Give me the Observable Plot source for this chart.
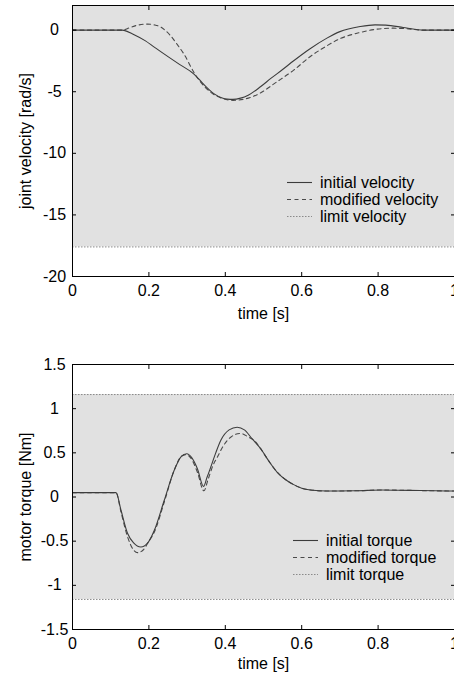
<!DOCTYPE html>
<html><head><meta charset="utf-8">
<script src="https://cdn.jsdelivr.net/npm/d3@7"></script>
<script src="https://cdn.jsdelivr.net/npm/@observablehq/plot@0.6"></script>
<style>
body{margin:0;background:#fff;font-family:"Liberation Sans",Arial,sans-serif;}
#wrap{position:relative;width:454px;height:676px;overflow:hidden;}
#wrap svg{display:block;}
.legend{position:absolute;font-size:16px;color:#000;line-height:17px;}
.legend .row{display:flex;align-items:center;height:17px;white-space:nowrap;}
.legend .row svg{display:block;margin-right:8px;}
</style>
</head><body><div id="wrap"></div>
<script>
// ---- data ----
const xTicks = [0, 0.2, 0.4, 0.6, 0.8, 1];
const velocityTicks = [0, -5, -10, -15, -20];
const torqueTicks = [1.5, 1, 0.5, 0, -0.5, -1, -1.5];
const velocityLimit = 17.6;
const torqueLimit = 1.16;
const velocityLegend = ["initial velocity", "modified velocity", "limit velocity"];
const torqueLegend = ["initial torque", "modified torque", "limit torque"];

const initialVelocity = [[0,0],[0.13,0],[0.135,-0.02],[0.16,-0.35],[0.19,-0.85],[0.214,-1.38],[0.25,-2.15],[0.28,-2.78],[0.318,-3.57],[0.331,-3.98],[0.35,-4.6],[0.37,-5.15],[0.39,-5.48],[0.405,-5.6],[0.42,-5.62],[0.44,-5.52],[0.46,-5.28],[0.492,-4.6],[0.52,-3.9],[0.55,-3.2],[0.579,-2.49],[0.62,-1.55],[0.666,-0.65],[0.70,-0.12],[0.753,0.29],[0.792,0.43],[0.82,0.41],[0.866,0.21],[0.9,0.05],[0.919,0],[1,0]];
const modifiedVelocity = [[0,0],[0.13,0],[0.15,0.2],[0.17,0.4],[0.196,0.49],[0.215,0.42],[0.231,0.25],[0.245,-0.08],[0.257,-0.46],[0.275,-1.2],[0.292,-1.95],[0.318,-3.44],[0.335,-4.2],[0.36,-5.0],[0.39,-5.52],[0.42,-5.7],[0.45,-5.6],[0.492,-5.1],[0.53,-4.3],[0.579,-3.25],[0.62,-2.2],[0.666,-1.27],[0.70,-0.7],[0.753,-0.19],[0.797,0.08],[0.84,0.16],[0.88,0.1],[0.919,0],[1,0]];

const initialTorque = [[0,0.05],[0.114,0.05],[0.127,-0.15],[0.144,-0.41],[0.16,-0.52],[0.179,-0.566],[0.197,-0.52],[0.214,-0.38],[0.24,-0.04],[0.266,0.3],[0.285,0.46],[0.299,0.49],[0.313,0.44],[0.327,0.32],[0.343,0.12],[0.352,0.22],[0.362,0.34],[0.375,0.5],[0.388,0.64],[0.41,0.76],[0.431,0.79],[0.45,0.76],[0.47,0.66],[0.492,0.55],[0.515,0.4],[0.536,0.28],[0.56,0.19],[0.579,0.14],[0.6,0.1],[0.623,0.08],[0.666,0.068],[0.74,0.07],[0.81,0.08],[0.88,0.075],[0.95,0.07],[1,0.068]];
const modifiedTorque = [[0,0.05],[0.114,0.05],[0.127,-0.17],[0.144,-0.45],[0.16,-0.6],[0.17,-0.63],[0.185,-0.6],[0.2,-0.5],[0.214,-0.4],[0.24,-0.06],[0.266,0.3],[0.285,0.46],[0.297,0.48],[0.313,0.42],[0.327,0.28],[0.344,0.07],[0.355,0.2],[0.368,0.36],[0.379,0.45],[0.395,0.58],[0.415,0.68],[0.44,0.72],[0.46,0.68],[0.48,0.62],[0.492,0.55],[0.515,0.4],[0.536,0.28],[0.56,0.19],[0.579,0.14],[0.6,0.1],[0.623,0.08],[0.666,0.068],[0.74,0.07],[0.81,0.08],[0.88,0.075],[0.95,0.07],[1,0.068]];

// ---- styles ----
const FONT = "Liberation Sans, Arial, sans-serif";
const solidColor = "#3c3c3c", dashColor = "#4a4a4a", limitColor = "#8a8a8a", bgFill = "#e1e1e1";
const dashPattern = "4,3.5", dotPattern = "1.5,1.5";

function chart({height, marginTop, marginBottom, yDomain, yTicks, limit, initial, modified, ylabel, xlabelDy}) {
  const fmt = d => String(d);
  return Plot.plot({
    width: 454, height, marginLeft: 72, marginRight: 0, marginTop, marginBottom,
    style: {fontFamily: FONT, fontSize: "16px", background: "white", color: "black", overflow: "hidden"},
    x: {domain: [0, 1]},
    y: {domain: yDomain},
    marks: [
      Plot.rectY([limit], {x1: 0, x2: 1, y1: d => -d, y2: d => d, fill: bgFill, clip: true}),
      Plot.ruleY([-limit, limit], {stroke: limitColor, strokeDasharray: dotPattern, strokeWidth: 1, clip: true}),
      Plot.line(modified, {x: d => d[0], y: d => d[1], stroke: dashColor, strokeWidth: 1.1, strokeDasharray: dashPattern, curve: "monotone-x", clip: true}),
      Plot.line(initial, {x: d => d[0], y: d => d[1], stroke: solidColor, strokeWidth: 1.1, curve: "monotone-x", clip: true}),
      Plot.axisX(xTicks, {anchor: "bottom", tickSize: 0, tickPadding: 8, tickFormat: fmt, label: null}),
      Plot.axisX(xTicks, {anchor: "bottom", tickSize: -4, tickFormat: () => "", label: null, stroke: "black"}),
      Plot.axisX(xTicks, {anchor: "top", tickSize: -4, tickFormat: () => "", label: null, stroke: "black"}),
      Plot.axisY(yTicks, {anchor: "left", tickSize: 0, tickPadding: 18, textAnchor: "middle", tickFormat: fmt, label: null}),
      Plot.axisY(yTicks, {anchor: "left", tickSize: -4, tickFormat: () => "", label: null, stroke: "black"}),
      Plot.axisY(yTicks, {anchor: "right", tickSize: -4, tickFormat: () => "", label: null, stroke: "black"}),
      Plot.frame({stroke: "black", strokeWidth: 1}),
      Plot.text(["time [s]"], {frameAnchor: "bottom", dy: xlabelDy, textAnchor: "middle", lineAnchor: "middle", fontSize: 16, fill: "black"}),
      Plot.text([ylabel], {frameAnchor: "left", dx: -47, rotate: -90, textAnchor: "middle", lineAnchor: "middle", fontSize: 16, fill: "black"})
    ]
  });
}

function legend(labels, left, top) {
  const div = document.createElement("div");
  div.className = "legend";
  div.style.left = left + "px";
  div.style.top = top + "px";
  const styles = [
    {stroke: solidColor, dash: null},
    {stroke: dashColor, dash: dashPattern},
    {stroke: limitColor, dash: dotPattern}
  ];
  labels.forEach((lab, i) => {
    const row = document.createElement("div");
    row.className = "row";
    const s = styles[i];
    row.innerHTML = `<svg width="25" height="17"><line x1="0" x2="25" y1="8.5" y2="8.5" stroke="${s.stroke}" stroke-width="1.1" ${s.dash ? `stroke-dasharray="${s.dash}"` : ""}/></svg><span>${lab}</span>`;
    div.appendChild(row);
  });
  return div;
}

const wrap = document.getElementById("wrap");
wrap.appendChild(chart({
  height: 340, marginTop: 5, marginBottom: 64, yDomain: [-20, 2], yTicks: velocityTicks,
  limit: velocityLimit, initial: initialVelocity, modified: modifiedVelocity,
  ylabel: "joint velocity [rad/s]", xlabelDy: 37
}));
wrap.appendChild(chart({
  height: 336, marginTop: 24, marginBottom: 47, yDomain: [-1.5, 1.5], yTicks: torqueTicks,
  limit: torqueLimit, initial: initialTorque, modified: modifiedTorque,
  ylabel: "motor torque [Nm]", xlabelDy: 34
}));
wrap.appendChild(legend(velocityLegend, 287, 174));
wrap.appendChild(legend(torqueLegend, 293, 531.5));
</script>
</body></html>
